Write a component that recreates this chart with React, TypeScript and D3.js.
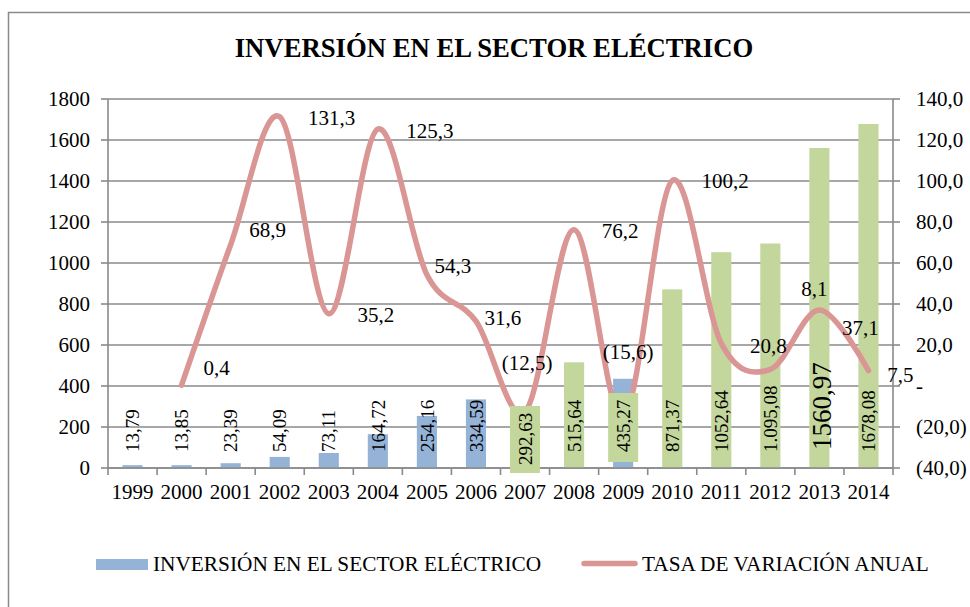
import * as d3 from "d3";

const years = ["1999", "2000", "2001", "2002", "2003", "2004", "2005", "2006", "2007", "2008", "2009", "2010", "2011", "2012", "2013", "2014"];
const inversion = [13.79, 13.85, 23.39, 54.09, 73.11, 164.72, 254.16, 334.59, 292.63, 515.64, 435.27, 871.37, 1052.64, 1095.08, 1560.97, 1678.08];
const inversionLabels = ["13,79", "13,85", "23,39", "54,09", "73,11", "164,72", "254,16", "334,59", "292,63", "515,64", "435,27", "871,37", "1052,64", "1.095,08", "1560,97", "1678,08"];
const greenYears = ["2007", "2008", "2010", "2011", "2012", "2013", "2014"];
const boxedYears = ["2007", "2009"];
const rateYears = years.slice(1);
const tasa = [0.4, 68.9, 131.3, 35.2, 125.3, 54.3, 31.6, -12.5, 76.2, -15.6, 100.2, 20.8, 8.1, 37.1, 7.5];
const leftTicks = [0, 200, 400, 600, 800, 1000, 1200, 1400, 1600, 1800];
const rightTicks = [-40, -20, 0, 20, 40, 60, 80, 100, 120, 140];

// manual label offsets (Excel-style moved labels), px from the point
const rateLabelOffset: [number, number][] = [
  [35, -18], [37, -15], [52, 1], [47, 1], [52, 2], [26, -9], [27, -4], [2, -49],
  [46, 1], [5, -66], [53, 0], [47, 2], [44, -81], [41, 18], [32, 4],
];

const BLUE = "#95B3D7";
const GREEN = "#C3D69B";
const RED = "#D99694";
const GRID = "#8a8a8a";
const FONT = "'Liberation Serif', 'Times New Roman', serif";

const fmtRate = (v: number) => {
  if (v === 0) return "-";
  const s = Math.abs(v).toFixed(1).replace(".", ",");
  return v < 0 ? `(${s})` : s;
};

export default function App() {
  const W = 970;
  const H = 607;
  const margin = { top: 99, right: 77, bottom: 139, left: 108 };
  const x0 = margin.left;
  const x1 = W - margin.right;
  const yTop = margin.top;
  const yBot = H - margin.bottom;

  const x = d3.scaleBand<string>().domain(years).range([x0, x1]).padding(0);
  const step = x.bandwidth();
  const barW = step * 0.41;
  const cx = (d: string) => (x(d) ?? 0) + step / 2;
  const yL = d3.scaleLinear().domain([0, 1800]).range([yBot, yTop]);
  const yR = d3.scaleLinear().domain([-40, 140]).range([yBot, yTop]);

  const pts: [number, number][] = rateYears.map((yr, i) => [cx(yr), yR(tasa[i])]);
  const line = d3.line().curve(d3.curveCatmullRom.alpha(0))(pts) ?? "";

  return (
    <svg width={W} height={H} style={{ position: "absolute", left: 0, top: 0, background: "#fff" }} fontFamily={FONT}>
      <rect x={8.5} y={12.5} width={W + 20} height={H + 20} fill="#fff" stroke={GRID} strokeWidth={1.5} />
      <text x={494} y={57} textAnchor="middle" fontSize={26.7} fontWeight="bold">
        INVERSIÓN EN EL SECTOR ELÉCTRICO
      </text>

      {/* gridlines */}
      {leftTicks.map((t) => (
        <line key={t} x1={x0} x2={x1} y1={yL(t)} y2={yL(t)} stroke={GRID} strokeWidth={1.6} />
      ))}

      {/* bars */}
      {years.map((yr, i) => (
        <rect
          key={yr}
          x={cx(yr) - barW / 2}
          width={barW}
          y={yL(inversion[i])}
          height={yBot - yL(inversion[i])}
          fill={greenYears.includes(yr) ? GREEN : BLUE}
        />
      ))}

      {/* axes */}
      <line x1={x0} x2={x0} y1={yTop} y2={yBot} stroke={GRID} strokeWidth={1.6} />
      <line x1={x1} x2={x1} y1={yTop} y2={yBot} stroke={GRID} strokeWidth={1.6} />
      <line x1={x0} x2={x1} y1={yBot} y2={yBot} stroke={GRID} strokeWidth={1.6} />
      {leftTicks.map((t) => (
        <g key={t}>
          <line x1={x0 - 7} x2={x0} y1={yL(t)} y2={yL(t)} stroke={GRID} strokeWidth={1.6} />
          <text x={90} y={yL(t)} dy="0.35em" textAnchor="end" fontSize={21}>{t}</text>
        </g>
      ))}
      {rightTicks.map((t) => (
        <g key={t}>
          <line x1={x1} x2={x1 + 7} y1={yR(t)} y2={yR(t)} stroke={GRID} strokeWidth={1.6} />
          <text x={916} y={yR(t)} dy="0.35em" textAnchor="start" fontSize={21}>{fmtRate(t)}</text>
        </g>
      ))}
      {years.concat(["end"]).map((yr, i) => (
        <line key={yr} x1={x0 + i * step} x2={x0 + i * step} y1={yBot} y2={yBot + 7} stroke={GRID} strokeWidth={1.6} />
      ))}
      {years.map((yr) => (
        <text key={yr} x={cx(yr)} y={499} textAnchor="middle" fontSize={21}>{yr}</text>
      ))}

      {/* rate line */}
      <path d={line} fill="none" stroke={RED} strokeWidth={5.5} strokeLinecap="round" />

      {/* bar labels */}
      {years.map((yr, i) => {
        const boxed = boxedYears.includes(yr);
        const big = yr === "2013";
        const bottom = yr === "2007" ? 465 : big ? 450 : 452;
        return (
          <g key={yr}>
            {boxed && (
              <rect x={cx(yr) - 15} width={30} y={bottom - 59} height={yr === "2007" ? 67 : 69} fill={GREEN} />
            )}
            <text
              transform={`translate(${cx(yr) + (big ? 2 : 0)},${bottom}) rotate(-90)`}
              dy="0.35em"
              fontSize={big ? 27 : 19}
            >
              {inversionLabels[i]}
            </text>
          </g>
        );
      })}

      {/* rate labels */}
      {rateYears.map((yr, i) => (
        <text
          key={yr}
          x={pts[i][0] + rateLabelOffset[i][0]}
          y={pts[i][1] + rateLabelOffset[i][1]}
          dy="0.35em"
          textAnchor="middle"
          fontSize={21}
        >
          {fmtRate(tasa[i])}
        </text>
      ))}

      {/* legend */}
      <rect x={96} y={559} width={52} height={11} fill={BLUE} />
      <text x={153} y={571} fontSize={21.3}>INVERSIÓN EN EL SECTOR ELÉCTRICO</text>
      <line x1={584} x2={635} y1={563.5} y2={563.5} stroke={RED} strokeWidth={5.5} strokeLinecap="round" />
      <text x={642} y={571} fontSize={21.3}>TASA DE VARIACIÓN ANUAL</text>
    </svg>
  );
}
